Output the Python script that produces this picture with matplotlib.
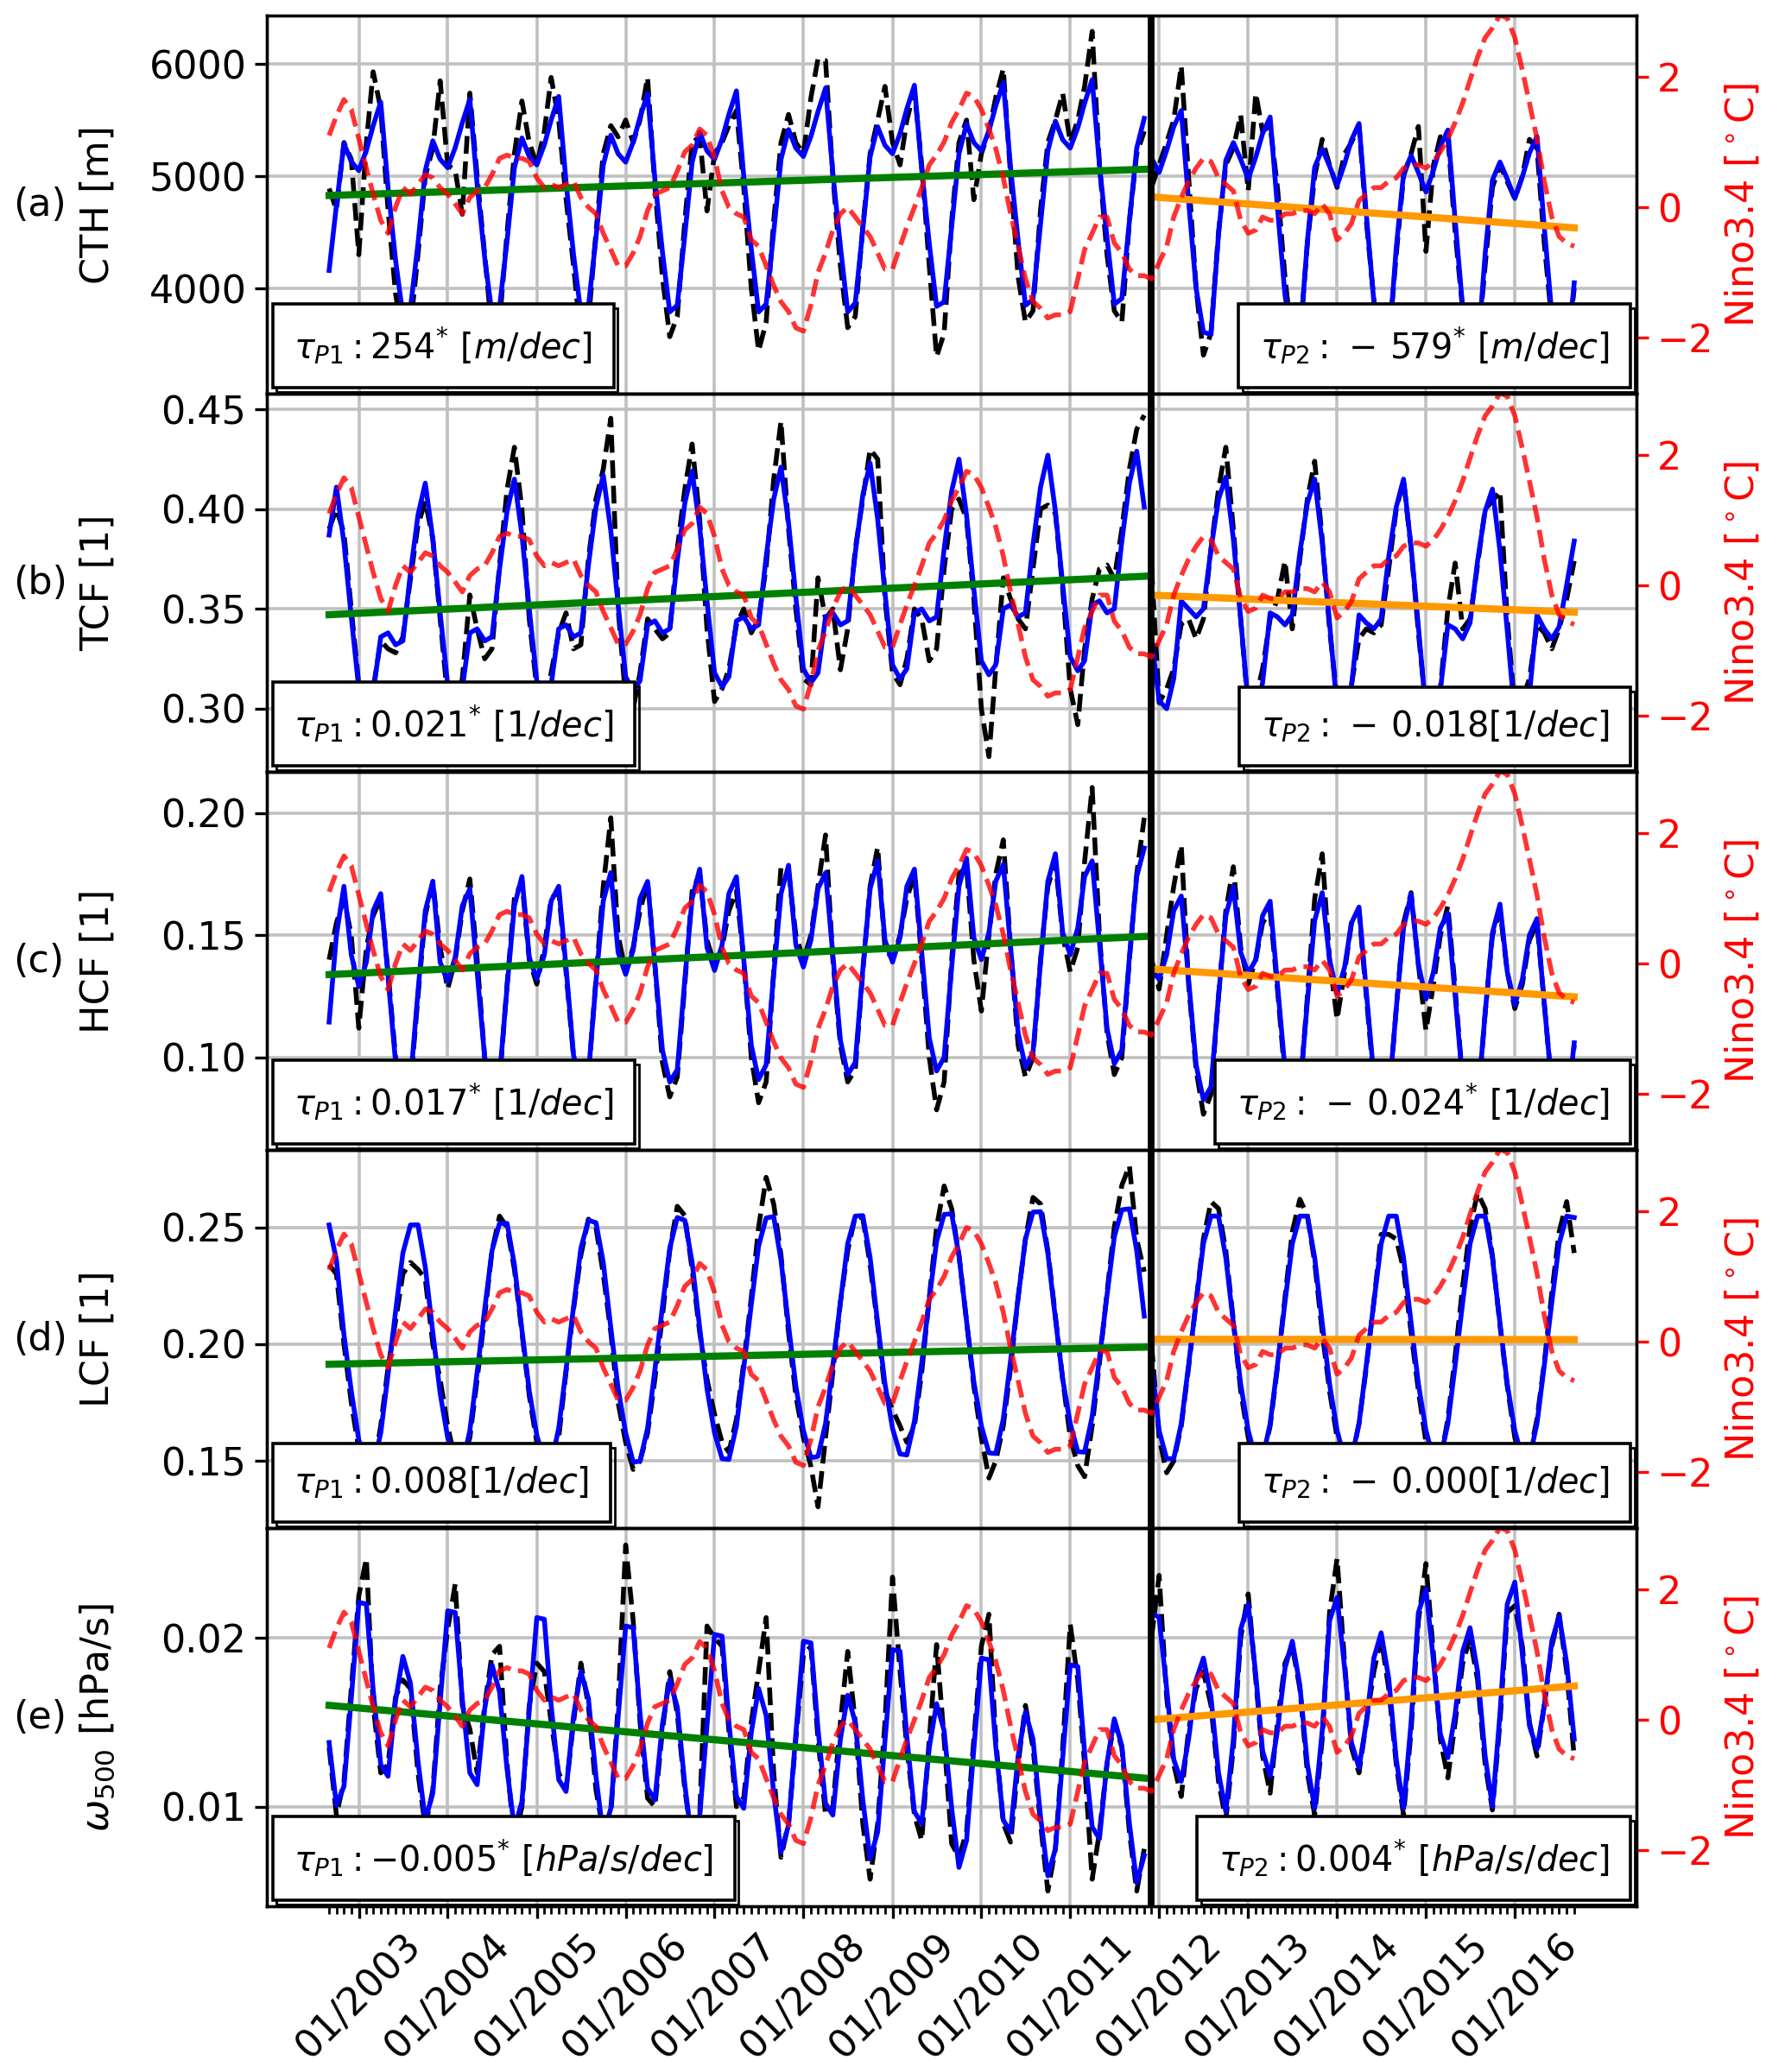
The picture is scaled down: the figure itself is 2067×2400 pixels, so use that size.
import numpy as np
import matplotlib
matplotlib.use('Agg')
import matplotlib.pyplot as plt
import matplotlib.dates as mdates
import matplotlib.patheffects as pe
from matplotlib.offsetbox import AnchoredText

# monthly time axis 09/2002 .. 09/2016, P2 starts 12/2011
meses = np.arange('2002-09', '2016-10', dtype='datetime64[M]').astype('datetime64[D]')
corte = 111
data_corte = np.datetime64('2011-12-01')
anos_ticks = [np.datetime64(f'{a}-01-01') for a in range(2003, 2017)]

nino34 = [
    1.1, 1.4, 1.65, 1.5,
    1.05, 0.6, 0.2, -0.2, -0.4, 0.0, 0.3, 0.2, 0.35, 0.5, 0.45, 0.3,
    0.2, 0.05, -0.1, 0.15, 0.25, 0.3, 0.5, 0.75, 0.8, 0.75, 0.75, 0.7,
    0.45, 0.3, 0.35, 0.3, 0.35, 0.4, 0.15, 0.0, -0.1, -0.4, -0.65, -0.9,
    -0.9, -0.7, -0.45, -0.05, 0.2, 0.25, 0.3, 0.55, 0.85, 0.95, 1.2, 1.1,
    0.75, 0.25, 0.0, -0.1, -0.15, -0.5, -0.6, -0.9, -1.2, -1.45, -1.6, -1.85,
    -1.9, -1.5, -1.0, -0.7, -0.35, -0.1, 0.0, -0.15, -0.3, -0.45, -0.7, -0.95,
    -0.95, -0.6, -0.3, 0.0, 0.3, 0.65, 0.8, 1.0, 1.3, 1.5, 1.75, 1.7,
    1.5, 1.2, 0.9, 0.45, -0.1, -0.6, -1.1, -1.45, -1.55, -1.7, -1.65, -1.65,
    -1.6, -1.1, -0.65, -0.4, -0.15, -0.15, -0.55, -0.7, -0.95, -1.05, -1.05, -1.1,
    -0.85, -0.6, -0.15, 0.15, 0.4, 0.6, 0.75, 0.7, 0.45, 0.35, 0.25, -0.2,
    -0.4, -0.35, -0.15, -0.2, -0.2, -0.1, -0.1, -0.05, -0.05, -0.1, 0.05, -0.1,
    -0.5, -0.4, -0.25, 0.1, 0.2, 0.3, 0.3, 0.4, 0.45, 0.6, 0.65, 0.65,
    0.6, 0.7, 0.85, 1.05, 1.3, 1.6, 1.95, 2.3, 2.6, 2.75, 2.95, 2.9,
    2.6, 2.1, 1.6, 1.05, 0.4, -0.15, -0.45, -0.55, -0.6,
]

cth_fit = [
    4160, 4740, 5290, 5130,
    5050, 5230, 5450, 5660, 4900, 4250, 3760, 3820, 4400, 5050, 5315, 5150,
    5075, 5255, 5475, 5685, 4925, 4275, 3770, 3830, 4425, 5075, 5340, 5175,
    5100, 5280, 5500, 5710, 4950, 4300, 3780, 3840, 4450, 5100, 5365, 5200,
    5125, 5305, 5525, 5735, 4975, 4325, 3790, 3850, 4475, 5125, 5390, 5225,
    5150, 5330, 5550, 5760, 5000, 4350, 3790, 3860, 4500, 5150, 5415, 5250,
    5175, 5355, 5575, 5785, 5025, 4375, 3790, 3870, 4525, 5175, 5440, 5275,
    5200, 5380, 5600, 5810, 5050, 4400, 3840, 3880, 4550, 5200, 5465, 5300,
    5225, 5405, 5625, 5835, 5075, 4425, 3850, 3900, 4575, 5225, 5490, 5325,
    5250, 5430, 5650, 5860, 5100, 4450, 3860, 3910, 4600, 5250, 5515, 5160,
    5033, 5230, 5440, 5585, 4780, 4000, 3610, 3590, 4480, 5140, 5300, 5150,
    4975, 5170, 5380, 5527, 4720, 3940, 3550, 3530, 4420, 5080, 5242, 5090,
    4917, 5112, 5322, 5469, 4662, 3882, 3492, 3472, 4362, 5022, 5184, 5032,
    4859, 5054, 5264, 5411, 4604, 3824, 3434, 3414, 4304, 4964, 5126, 4974,
    4801, 4996, 5206, 5353, 4546, 3766, 3376, 3356, 4050,
]
cth_obs = [
    4890, 4700, 5300, 5150,
    4300, 5300, 5930, 5600, 4700, 3950, 3550, 3650, 4300, 5000, 5250, 5850,
    5100, 5050, 4660, 5740, 5000, 4300, 3600, 3700, 4500, 5200, 5670, 5300,
    5100, 5400, 5880, 5500, 4800, 4200, 3550, 3700, 4500, 5200, 5450, 5350,
    5500, 5300, 5500, 5880, 4900, 4100, 3570, 3750, 4600, 5300, 5350, 4690,
    5200, 5300, 5450, 5585, 4900, 4000, 3443, 3700, 4600, 5300, 5550, 5300,
    5200, 5700, 6046, 6030, 5000, 4200, 3650, 3750, 4550, 5200, 5500, 5800,
    5300, 5100, 5500, 5764, 5100, 4200, 3392, 3600, 4600, 5300, 5500, 4790,
    5200, 5400, 5700, 5956, 5000, 4100, 3700, 3800, 4700, 5300, 5500, 5738,
    5300, 5500, 5800, 6290, 5100, 4300, 3800, 3700, 4600, 5200, 5400, 4900,
    5100, 5300, 5500, 5982, 5000, 4000, 3405, 3600, 4500, 5100, 5250, 5546,
    4870, 5738, 5400, 5450, 4900, 4100, 3500, 3550, 4400, 5000, 5328, 5100,
    4900, 5200, 5300, 5450, 4600, 3900, 3450, 3500, 4300, 5000, 5200, 5443,
    4330, 5100, 5350, 5350, 4500, 3800, 3400, 3450, 4200, 4900, 5100, 4950,
    4800, 5000, 5328, 5250, 4400, 3700, 3300, 3400, 4000,
]

tcf_fit = [
    0.387, 0.411, 0.383, 0.346,
    0.310, 0.303, 0.308, 0.336, 0.338, 0.332, 0.334, 0.368, 0.397, 0.413, 0.385, 0.348,
    0.312, 0.305, 0.310, 0.338, 0.340, 0.334, 0.336, 0.370, 0.399, 0.415, 0.387, 0.350,
    0.314, 0.307, 0.312, 0.340, 0.342, 0.336, 0.338, 0.372, 0.401, 0.417, 0.389, 0.352,
    0.316, 0.309, 0.314, 0.342, 0.344, 0.338, 0.340, 0.374, 0.403, 0.419, 0.391, 0.354,
    0.318, 0.311, 0.316, 0.344, 0.346, 0.340, 0.342, 0.376, 0.405, 0.421, 0.393, 0.356,
    0.320, 0.313, 0.318, 0.346, 0.348, 0.342, 0.344, 0.378, 0.407, 0.423, 0.395, 0.358,
    0.322, 0.315, 0.320, 0.348, 0.350, 0.344, 0.346, 0.380, 0.409, 0.425, 0.397, 0.360,
    0.324, 0.317, 0.322, 0.350, 0.352, 0.346, 0.348, 0.382, 0.411, 0.427, 0.399, 0.362,
    0.326, 0.319, 0.324, 0.352, 0.354, 0.348, 0.350, 0.384, 0.413, 0.429, 0.401, 0.335,
    0.304, 0.300, 0.315, 0.354, 0.350, 0.346, 0.350, 0.380, 0.405, 0.416, 0.385, 0.345,
    0.302, 0.298, 0.313, 0.348, 0.346, 0.342, 0.347, 0.378, 0.403, 0.415, 0.383, 0.343,
    0.300, 0.296, 0.311, 0.347, 0.343, 0.340, 0.345, 0.376, 0.401, 0.415, 0.381, 0.341,
    0.298, 0.294, 0.309, 0.342, 0.340, 0.335, 0.343, 0.374, 0.399, 0.410, 0.379, 0.339,
    0.296, 0.292, 0.307, 0.347, 0.340, 0.335, 0.341, 0.362, 0.384,
]
tcf_obs = [
    0.390, 0.400, 0.388, 0.350,
    0.312, 0.305, 0.310, 0.334, 0.330, 0.328, 0.336, 0.365, 0.392, 0.404, 0.385, 0.345,
    0.305, 0.300, 0.315, 0.357, 0.340, 0.325, 0.330, 0.372, 0.410, 0.431, 0.400, 0.345,
    0.310, 0.302, 0.318, 0.338, 0.348, 0.330, 0.332, 0.375, 0.405, 0.420, 0.4455, 0.350,
    0.305, 0.300, 0.318, 0.345, 0.340, 0.335, 0.338, 0.380, 0.410, 0.4326, 0.395, 0.340,
    0.3036, 0.310, 0.320, 0.342, 0.350, 0.338, 0.345, 0.371, 0.415, 0.444, 0.390, 0.350,
    0.315, 0.312, 0.3656, 0.345, 0.350, 0.3195, 0.340, 0.380, 0.405, 0.430, 0.425, 0.355,
    0.318, 0.312, 0.325, 0.350, 0.345, 0.324, 0.330, 0.370, 0.400, 0.405, 0.395, 0.355,
    0.300, 0.276, 0.320, 0.3656, 0.355, 0.345, 0.340, 0.370, 0.400, 0.402, 0.398, 0.360,
    0.310, 0.292, 0.330, 0.355, 0.370, 0.372, 0.365, 0.390, 0.420, 0.440, 0.447, 0.371,
    0.303, 0.310, 0.320, 0.3425, 0.345, 0.335, 0.345, 0.380, 0.410, 0.431, 0.390, 0.345,
    0.300, 0.305, 0.320, 0.345, 0.355, 0.374, 0.340, 0.375, 0.405, 0.424, 0.385, 0.340,
    0.305, 0.300, 0.312, 0.335, 0.340, 0.338, 0.342, 0.370, 0.400, 0.4146, 0.380, 0.338,
    0.300, 0.296, 0.310, 0.350, 0.373, 0.340, 0.345, 0.372, 0.400, 0.404, 0.409, 0.345,
    0.300, 0.305, 0.315, 0.342, 0.338, 0.330, 0.340, 0.355, 0.374,
]

hcf_fit = [
    0.1145, 0.150, 0.170, 0.142,
    0.129, 0.139, 0.160, 0.167, 0.133, 0.098, 0.085, 0.090, 0.127, 0.160, 0.172, 0.139,
    0.131, 0.141, 0.162, 0.169, 0.135, 0.100, 0.087, 0.092, 0.129, 0.162, 0.174, 0.141,
    0.132, 0.142, 0.164, 0.170, 0.137, 0.101, 0.088, 0.093, 0.131, 0.164, 0.1756, 0.143,
    0.134, 0.144, 0.165, 0.172, 0.138, 0.103, 0.090, 0.095, 0.132, 0.165, 0.177, 0.145,
    0.1356, 0.146, 0.167, 0.1739, 0.140, 0.105, 0.091, 0.097, 0.134, 0.167, 0.1786, 0.146,
    0.137, 0.148, 0.169, 0.1755, 0.142, 0.107, 0.093, 0.098, 0.136, 0.169, 0.1804, 0.148,
    0.139, 0.149, 0.170, 0.177, 0.143, 0.108, 0.0945, 0.100, 0.137, 0.170, 0.1815, 0.149,
    0.140, 0.151, 0.172, 0.179, 0.145, 0.110, 0.096, 0.102, 0.139, 0.172, 0.1833, 0.151,
    0.142, 0.153, 0.174, 0.1804, 0.147, 0.112, 0.0974, 0.103, 0.141, 0.174, 0.1856, 0.1356,
    0.132, 0.142, 0.160, 0.166, 0.132, 0.097, 0.0827, 0.088, 0.125, 0.158, 0.1698, 0.143,
    0.1345, 0.140, 0.158, 0.1639, 0.130, 0.095, 0.080, 0.086, 0.123, 0.156, 0.1674, 0.140,
    0.1262, 0.137, 0.155, 0.1615, 0.127, 0.092, 0.078, 0.083, 0.120, 0.153, 0.1668, 0.138,
    0.1239, 0.135, 0.153, 0.159, 0.125, 0.090, 0.076, 0.081, 0.118, 0.151, 0.1627, 0.135,
    0.1215, 0.132, 0.150, 0.1568, 0.122, 0.088, 0.073, 0.078, 0.106,
]
hcf_obs = [
    0.140, 0.155, 0.165, 0.150,
    0.112, 0.145, 0.158, 0.165, 0.135, 0.100, 0.082, 0.088, 0.125, 0.158, 0.172, 0.145,
    0.128, 0.140, 0.160, 0.173, 0.140, 0.100, 0.085, 0.090, 0.130, 0.165, 0.172, 0.140,
    0.130, 0.145, 0.165, 0.168, 0.135, 0.100, 0.086, 0.092, 0.132, 0.170, 0.198, 0.150,
    0.135, 0.145, 0.160, 0.172, 0.138, 0.098, 0.0839, 0.092, 0.130, 0.168, 0.175, 0.148,
    0.138, 0.145, 0.160, 0.168, 0.140, 0.100, 0.0815, 0.090, 0.135, 0.178, 0.176, 0.150,
    0.140, 0.150, 0.170, 0.191, 0.140, 0.105, 0.090, 0.095, 0.135, 0.170, 0.186, 0.145,
    0.140, 0.150, 0.165, 0.175, 0.140, 0.100, 0.0786, 0.090, 0.140, 0.175, 0.178, 0.140,
    0.119, 0.150, 0.175, 0.189, 0.145, 0.105, 0.092, 0.100, 0.140, 0.170, 0.180, 0.150,
    0.135, 0.145, 0.180, 0.2104, 0.150, 0.110, 0.093, 0.100, 0.140, 0.175, 0.198, 0.140,
    0.128, 0.150, 0.170, 0.1868, 0.130, 0.095, 0.0768, 0.085, 0.125, 0.160, 0.178, 0.145,
    0.130, 0.140, 0.155, 0.160, 0.128, 0.092, 0.078, 0.085, 0.125, 0.165, 0.1833, 0.140,
    0.1156, 0.135, 0.155, 0.160, 0.125, 0.090, 0.076, 0.082, 0.120, 0.155, 0.1674, 0.138,
    0.111, 0.130, 0.150, 0.162, 0.128, 0.090, 0.075, 0.080, 0.118, 0.150, 0.160, 0.135,
    0.120, 0.130, 0.148, 0.155, 0.122, 0.088, 0.072, 0.078, 0.105,
]

lcf_fit = [
    0.251, 0.236, 0.204, 0.180,
    0.159, 0.148, 0.1475, 0.162, 0.187, 0.214, 0.239, 0.251, 0.2511, 0.233, 0.205, 0.179,
    0.160, 0.149, 0.1483, 0.163, 0.188, 0.215, 0.240, 0.2517, 0.2517, 0.234, 0.206, 0.180,
    0.161, 0.150, 0.149, 0.164, 0.189, 0.216, 0.241, 0.253, 0.252, 0.235, 0.207, 0.181,
    0.162, 0.1495, 0.150, 0.164, 0.189, 0.216, 0.241, 0.2542, 0.253, 0.235, 0.207, 0.181,
    0.162, 0.151, 0.1507, 0.165, 0.190, 0.217, 0.242, 0.254, 0.2546, 0.236, 0.208, 0.182,
    0.163, 0.1514, 0.152, 0.166, 0.191, 0.218, 0.243, 0.2548, 0.255, 0.237, 0.209, 0.183,
    0.164, 0.153, 0.1526, 0.167, 0.192, 0.219, 0.244, 0.2555, 0.2558, 0.238, 0.210, 0.184,
    0.165, 0.1535, 0.1532, 0.168, 0.193, 0.220, 0.245, 0.2565, 0.2567, 0.239, 0.211, 0.185,
    0.166, 0.154, 0.1538, 0.169, 0.194, 0.221, 0.246, 0.2575, 0.2579, 0.240, 0.212, 0.192,
    0.163, 0.151, 0.151, 0.166, 0.191, 0.218, 0.243, 0.2548, 0.2548, 0.237, 0.209, 0.183,
    0.163, 0.151, 0.151, 0.166, 0.191, 0.218, 0.243, 0.2548, 0.2548, 0.237, 0.209, 0.183,
    0.163, 0.151, 0.151, 0.166, 0.191, 0.218, 0.243, 0.2548, 0.2548, 0.237, 0.209, 0.183,
    0.163, 0.151, 0.151, 0.166, 0.191, 0.218, 0.243, 0.2548, 0.2548, 0.237, 0.209, 0.183,
    0.163, 0.151, 0.151, 0.166, 0.191, 0.218, 0.243, 0.2548, 0.2542,
]
lcf_obs = [
    0.234, 0.230, 0.200, 0.175,
    0.155, 0.145, 0.146, 0.165, 0.190, 0.210, 0.230, 0.235, 0.232, 0.228, 0.200, 0.185,
    0.165, 0.150, 0.150, 0.160, 0.185, 0.212, 0.240, 0.2548, 0.250, 0.232, 0.205, 0.178,
    0.158, 0.148, 0.146, 0.160, 0.188, 0.215, 0.238, 0.2535, 0.250, 0.230, 0.205, 0.175,
    0.158, 0.1464, 0.150, 0.162, 0.185, 0.212, 0.240, 0.259, 0.255, 0.232, 0.205, 0.185,
    0.170, 0.158, 0.1538, 0.168, 0.192, 0.220, 0.250, 0.2714, 0.260, 0.238, 0.205, 0.178,
    0.160, 0.1477, 0.1304, 0.160, 0.188, 0.218, 0.240, 0.2548, 0.254, 0.234, 0.208, 0.180,
    0.172, 0.165, 0.158, 0.165, 0.188, 0.220, 0.250, 0.2677, 0.258, 0.238, 0.210, 0.182,
    0.160, 0.1427, 0.150, 0.165, 0.190, 0.220, 0.245, 0.2628, 0.260, 0.240, 0.212, 0.185,
    0.160, 0.148, 0.1433, 0.165, 0.192, 0.222, 0.250, 0.268, 0.2764, 0.245, 0.231, 0.200,
    0.160, 0.145, 0.150, 0.165, 0.190, 0.218, 0.245, 0.261, 0.258, 0.240, 0.210, 0.180,
    0.160, 0.148, 0.150, 0.165, 0.190, 0.220, 0.248, 0.262, 0.255, 0.235, 0.205, 0.180,
    0.160, 0.150, 0.150, 0.166, 0.190, 0.218, 0.247, 0.247, 0.245, 0.232, 0.205, 0.180,
    0.158, 0.148, 0.150, 0.168, 0.195, 0.225, 0.250, 0.2647, 0.258, 0.238, 0.208, 0.182,
    0.160, 0.148, 0.152, 0.168, 0.192, 0.222, 0.248, 0.261, 0.239,
]

w500_fit = [
    0.0138, 0.0101, 0.0112, 0.0164,
    0.0221, 0.0220, 0.0169, 0.0125, 0.0118, 0.0163, 0.0189, 0.0173, 0.0127, 0.0092, 0.0108, 0.0162,
    0.0216, 0.0215, 0.0164, 0.0120, 0.0113, 0.0158, 0.0184, 0.0168, 0.0122, 0.0087, 0.0103, 0.0157,
    0.0212, 0.0211, 0.0160, 0.0116, 0.0109, 0.0154, 0.0180, 0.0164, 0.0118, 0.0083, 0.0099, 0.0153,
    0.0207, 0.0206, 0.0155, 0.0111, 0.0104, 0.0149, 0.0175, 0.0159, 0.0113, 0.0078, 0.0094, 0.0148,
    0.0202, 0.0201, 0.0150, 0.0106, 0.0099, 0.0144, 0.0170, 0.0154, 0.0108, 0.0073, 0.0089, 0.0143,
    0.0198, 0.0197, 0.0146, 0.0102, 0.0095, 0.0140, 0.0166, 0.0150, 0.0104, 0.0069, 0.0085, 0.0139,
    0.0193, 0.0192, 0.0141, 0.0097, 0.0090, 0.0135, 0.0161, 0.0145, 0.0099, 0.0064, 0.0080, 0.0134,
    0.0188, 0.0187, 0.0136, 0.0092, 0.0085, 0.0130, 0.0156, 0.0140, 0.0094, 0.0059, 0.0075, 0.0129,
    0.0184, 0.0183, 0.0132, 0.0088, 0.0081, 0.0126, 0.0152, 0.0136, 0.0090, 0.0055, 0.0071, 0.0215,
    0.0212, 0.0170, 0.0128, 0.0115, 0.0140, 0.0175, 0.0188, 0.0165, 0.0120, 0.0097, 0.0140, 0.0205,
    0.0220, 0.0178, 0.0133, 0.0118, 0.0145, 0.0182, 0.0198, 0.0172, 0.0125, 0.0099, 0.0145, 0.0210,
    0.0224, 0.0182, 0.0138, 0.0123, 0.0150, 0.0188, 0.0203, 0.0176, 0.0128, 0.0099, 0.0150, 0.0215,
    0.0229, 0.0186, 0.0143, 0.0129, 0.0155, 0.0192, 0.0206, 0.0180, 0.0130, 0.0100, 0.0155, 0.0220,
    0.0233, 0.0190, 0.0148, 0.0134, 0.0160, 0.0198, 0.0213, 0.0185, 0.0140,
]
w500_obs = [
    0.0135, 0.0095, 0.0115, 0.0170,
    0.0225, 0.0247, 0.0160, 0.0120, 0.0125, 0.0165, 0.0175, 0.0170, 0.0120, 0.0088, 0.0110, 0.0170,
    0.0205, 0.0232, 0.0160, 0.0146, 0.0120, 0.0160, 0.0190, 0.0195, 0.0125, 0.0080, 0.0100, 0.0160,
    0.0185, 0.0180, 0.0150, 0.0120, 0.0110, 0.0150, 0.0185, 0.0160, 0.0110, 0.0085, 0.0095, 0.0160,
    0.0255, 0.0210, 0.0150, 0.0105, 0.0100, 0.0145, 0.0180, 0.0155, 0.0110, 0.0080, 0.0095, 0.0207,
    0.0200, 0.0195, 0.0145, 0.0100, 0.0105, 0.0150, 0.0180, 0.0212, 0.0120, 0.0070, 0.0090, 0.0140,
    0.0190, 0.0195, 0.0140, 0.0095, 0.0100, 0.0150, 0.0192, 0.0150, 0.0090, 0.0057, 0.0090, 0.0150,
    0.0236, 0.0180, 0.0135, 0.0095, 0.0080, 0.0140, 0.0196, 0.0140, 0.0078, 0.0070, 0.0085, 0.0140,
    0.0195, 0.0214, 0.0140, 0.0090, 0.0079, 0.0125, 0.0160, 0.0135, 0.0090, 0.0050, 0.0075, 0.0135,
    0.0208, 0.0175, 0.0125, 0.0057, 0.0085, 0.0125, 0.0150, 0.0135, 0.0085, 0.0050, 0.0075, 0.0200,
    0.0237, 0.0165, 0.0125, 0.0106, 0.0145, 0.0170, 0.0180, 0.0160, 0.0115, 0.0092, 0.0135, 0.0200,
    0.0226, 0.0175, 0.0130, 0.0108, 0.0150, 0.0185, 0.0195, 0.0170, 0.0120, 0.0095, 0.0140, 0.0215,
    0.0247, 0.0185, 0.0135, 0.0120, 0.0150, 0.0180, 0.0200, 0.0170, 0.0125, 0.0095, 0.0145, 0.0210,
    0.0244, 0.0190, 0.0140, 0.0117, 0.0150, 0.0185, 0.0200, 0.0175, 0.0125, 0.0098, 0.0150, 0.0215,
    0.0219, 0.0195, 0.0150, 0.0130, 0.0160, 0.0195, 0.0214, 0.0180, 0.0129,
]

# trend lines: value at start of period and slope per decade
tend_p1 = [(4828, 254), (0.3471, 0.021), (0.1339, 0.017), (0.1914, 0.008), (0.0160, -0.0047)]
tend_p2 = [(4815, -579), (0.3569, -0.018), (0.1362, -0.024), (0.2021, -0.0003), (0.01515, 0.0042)]

txt_p1 = [r'$\tau_{P1}: 254^{*}\ [m/dec]$', r'$\tau_{P1}: 0.021^{*}\ [1/dec]$',
          r'$\tau_{P1}: 0.017^{*}\ [1/dec]$', r'$\tau_{P1}: 0.008 [1/dec]$',
          r'$\tau_{P1}: -0.005^{*}\ [hPa/s/dec]$']
txt_p2 = [r'$\tau_{P2}:\,-\,579^{*}\ [m/dec]$', r'$\tau_{P2}:\,-\,0.018 [1/dec]$',
          r'$\tau_{P2}:\,-\,0.024^{*}\ [1/dec]$', r'$\tau_{P2}:\,-\,0.000 [1/dec]$',
          r'$\tau_{P2}: 0.004^{*}\ [hPa/s/dec]$']

letras = ['(a)', '(b)', '(c)', '(d)', '(e)']
rotulos = ['CTH [m]', 'TCF [1]', 'HCF [1]', 'LCF [1]', r'$\omega_{500}$ [hPa/s]']
series_obs = [cth_obs, tcf_obs, hcf_obs, lcf_obs, w500_obs]
series_fit = [cth_fit, tcf_fit, hcf_fit, lcf_fit, w500_fit]
limites = [(3062, 6431), (0.2684, 0.4578), (0.0622, 0.2168), (0.1213, 0.2831), (0.0041, 0.0265)]
yticks = [[4000, 5000, 6000], [0.30, 0.35, 0.40, 0.45], [0.10, 0.15, 0.20],
          [0.15, 0.20, 0.25], [0.01, 0.02]]


def tendencia(datas, inicio, tau):
    t = (datas - datas[0]).astype(float) / 365.25
    return inicio + tau * t / 10.0


def caixa(ax, texto, loc):
    at = AnchoredText(texto, loc=loc, prop=dict(size=14.3), frameon=True,
                      pad=0.62, borderpad=0.17)
    at.patch.set_boxstyle('square,pad=0.')
    at.patch.set_linewidth(1.3)
    at.patch.set_edgecolor('k')
    # thin offset outline behind the frame
    at.patch.set_path_effects([pe.PathPatchEffect(offset=(1.6, -1.6), facecolor='none',
                                                  edgecolor='k', linewidth=1.0),
                               pe.Normal()])
    ax.add_artist(at)


fig, axs = plt.subplots(5, 1, sharex=True, figsize=(10.335, 12), dpi=200)
fig.subplots_adjust(left=0.1495, right=0.9168, top=0.9925, bottom=0.08, hspace=0)

d1, d2 = meses[:corte], meses[corte:]
for i, ax in enumerate(axs):
    obs = np.array(series_obs[i], dtype=float)
    fit = np.array(series_fit[i], dtype=float)

    ax.plot(d1, obs[:corte], color='k', ls='--', lw=2.0, zorder=2)
    ax.plot(d2, obs[corte:], color='k', ls='--', lw=2.0, zorder=2)
    ax.plot(d1, fit[:corte], color='blue', lw=2.0, zorder=3)
    ax.plot(d2, fit[corte:], color='blue', lw=2.0, zorder=3)
    ax.plot(d1, tendencia(d1, *tend_p1[i]), color='green', lw=3, zorder=4)
    ax.plot(d2, tendencia(d2, *tend_p2[i]), color='#ff9900', lw=3, zorder=4)
    ax.axvline(data_corte, color='k', lw=2.8, zorder=5)

    ax.set_ylim(*limites[i])
    ax.set_yticks(yticks[i])
    ax.grid(True, color='#c0c0c0', lw=1.3)
    ax.set_axisbelow(True)
    ax.tick_params(axis='y', labelsize=16, length=5, width=1.2)
    ax.set_ylabel(rotulos[i], fontsize=16)
    ax.yaxis.set_label_coords(-0.11, 0.5)
    ax.text(-0.185, 0.5, letras[i], transform=ax.transAxes, ha='left', va='center',
            fontsize=16)

    ax2 = ax.twinx()
    ax2.plot(meses, nino34, color='red', ls='--', lw=2.0, alpha=0.8)
    ax2.set_ylim(-2.86, 2.94)
    ax2.set_yticks([-2, 0, 2])
    ax2.tick_params(axis='y', colors='red', labelsize=16, length=5, width=1.2)
    ax2.set_ylabel(r'Nino3.4 [$^\circ$C]', color='red', fontsize=16)
    for a in (ax, ax2):
        for s in a.spines.values():
            s.set_linewidth(1.2)

    caixa(ax2, txt_p1[i], 'lower left')
    caixa(ax2, txt_p2[i], 'lower right')

    if i < 4:
        ax.tick_params(axis='x', which='both', length=0, labelbottom=False)

axb = axs[-1]
axb.set_xticks(anos_ticks)
axb.set_xticks(meses, minor=True)
axb.xaxis.set_major_formatter(mdates.DateFormatter('%m/%Y'))
axb.tick_params(axis='x', which='major', length=5, width=1.2, labelsize=16)
axb.tick_params(axis='x', which='minor', length=3.3, width=1.0)
plt.setp(axb.get_xticklabels(), rotation=45)

fig.savefig('out.png', dpi=200)
plt.close(fig)
